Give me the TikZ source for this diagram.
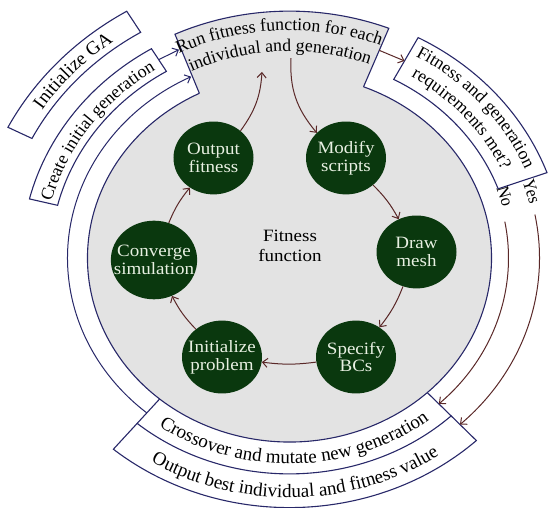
\documentclass[tikz,border=0pt]{standalone}
\usepackage{fontspec}
\setmainfont{Liberation Serif}
\usetikzlibrary{decorations.text,arrows.meta}
\definecolor{navyline}{RGB}{40,40,105}
\definecolor{brownline}{RGB}{90,40,40}
\definecolor{diskgray}{RGB}{227,227,227}
\definecolor{leafgreen}{RGB}{10,56,14}
\definecolor{leaftext}{RGB}{232,240,226}
\newcommand\dtfont{\fontsize{19}{21}\selectfont}
\newcommand\dtsmall{\fontsize{17.8}{20}\selectfont}
\begin{document}
\begin{tikzpicture}[x=1pt,y=1pt,yscale=0.911,
  outl/.style={draw=navyline,line width=1.1pt},
  tipped/.style={-{Straight Barb[length=5pt,width=9pt]}},
  navyarrow/.style={draw=navyline,line width=1pt,tipped},
  brownarrow/.style={draw=brownline,line width=1pt,tipped},
  leaf/.style={circle,fill=leafgreen,minimum size=80pt,inner sep=0pt,text=leaftext,align=center,font=\fontsize{19}{19.5}\selectfont,transform shape},
  lbl/.style={font=\dtsmall,transform shape,inner sep=1pt}
]
\useasboundingbox (-289.5,-274.4) rectangle (258.5,283.2);

% gray disk and run box
\fill[diskgray] (0,0) circle[radius=202];
\fill[diskgray] (68.5:201) -- (68.5:271) arc[start angle=68.5,end angle=115,radius=271] -- (116.5:201) -- cycle;
\draw[outl] (116.5:202) arc[start angle=116.5,end angle=428.5,radius=202];
\draw[outl] (68.5:202) -- (68.5:271) arc[start angle=68.5,end angle=115,radius=271] -- (116.5:202);

% crossover and output boxes
\draw[outl] (230:202) -- (230:237) arc[start angle=230,end angle=313,radius=237] -- (313:202);
\draw[outl] (230:237) -- (230:274) arc[start angle=230,end angle=313,radius=274] -- (313:237);

% fitness requirements box
\draw[outl,fill=white] (62:222) -- (62:274) arc[start angle=62,end angle=20,radius=274] -- (20:222) arc[start angle=20,end angle=62,radius=222] -- cycle;

% initialize GA and create initial generation
\draw[outl,fill=white] (153:289) -- (153:316) arc[start angle=153,end angle=121,radius=316] -- (121:289) arc[start angle=121,end angle=153,radius=289] -- cycle;
\draw[outl,fill=white] (166:239) -- (166:268) arc[start angle=166,end angle=121,radius=268] -- (121:239) arc[start angle=121,end angle=166,radius=239] -- cycle;

% texts along arcs
\path[decorate,decoration={text along path,text align=center,text={|\dtsmall|Run fitness function for each}}] (125:250) arc[start angle=125,end angle=60,radius=250];
\path[decorate,decoration={text along path,text align=center,text={|\dtsmall|individual and generation}}] (125:227) arc[start angle=125,end angle=60,radius=227];
\path[decorate,decoration={text along path,text align=center,text={|\dtsmall|Fitness and generation}}] (72:255) arc[start angle=72,end angle=10,radius=255];
\path[decorate,decoration={text along path,text align=center,text={|\dtsmall|requirements met?}}] (72:233) arc[start angle=72,end angle=10,radius=233];
\path[decorate,decoration={text along path,text align=center,text={|\dtfont|Crossover and mutate new generation}}] (220:226) arc[start angle=220,end angle=323,radius=226];
\path[decorate,decoration={text along path,text align=center,text={|\dtfont|Output best individual and fitness value}}] (220:263) arc[start angle=220,end angle=323,radius=263];
\path[decorate,decoration={text along path,text align=center,text={|\dtfont|Initialize GA}}] (162:296) arc[start angle=162,end angle=112,radius=296];
\path[decorate,decoration={text along path,text align=center,text={|\dtsmall|Create initial generation}}] (175:246) arc[start angle=175,end angle=114,radius=246];

% outer connectors
\coordinate (createend) at (121:254);
\coordinate (runleftA) at (115.8:254);
\coordinate (crossleft) at (230:222);
\coordinate (runrightA) at (68.5:245);
\coordinate (fitleft) at (62:245);
\coordinate (nostart) at (10.5:219);
\coordinate (yesstart) at (11:250);
\draw[navyarrow] (createend) -- (runleftA);
\draw[navyarrow] (crossleft) arc[start angle=230,end angle=116.3,radius=222];
\draw[brownarrow] (runrightA) -- (fitleft);
\draw[brownarrow] (nostart) arc[start angle=10.5,end angle=-47,radius=219];
\draw[brownarrow] (yesstart) arc[start angle=11,end angle=-47,radius=250];
\node[lbl,rotate=-72.5] (nolbl) at (17.5:226) {No};
\node[lbl,rotate=-73] (yeslbl) at (16.8:253) {Yes};

% inner cycle
\node[font=\fontsize{19}{22}\selectfont,align=center,transform shape] (ff) at (0.5,13.5) {Fitness\\function};
\node[leaf] (outfit) at (-76,109.8) {Output\\fitness};
\node[leaf] (modify) at (56.5,109.8) {Modify\\scripts};
\node[leaf] (mesh) at (127,6.6) {Draw\\mesh};
\node[leaf] (bcs) at (66.5,-108.7) {Specify\\BCs};
\node[leaf] (initp) at (-67.5,-108.7) {Initialize\\problem};
\node[leaf] (conv) at (-135.5,-2.2) {Converge\\simulation};
\coordinate (runin) at (-27.5,204.2);
\coordinate (runout) at (1.5,219.5);
\draw[brownarrow] (outfit) to[bend right=15] (runin);
\draw[brownarrow] (runout) to[bend right=20] (modify);
\draw[brownarrow] (modify) to[bend left=8] (mesh);
\draw[brownarrow] (mesh) to[bend left=8] (bcs);
\draw[brownarrow] (bcs) to[bend left=8] (initp);
\draw[brownarrow] (initp) to[bend left=8] (conv);
\draw[brownarrow] (conv) to[bend left=8] (outfit);
\end{tikzpicture}
\end{document}
